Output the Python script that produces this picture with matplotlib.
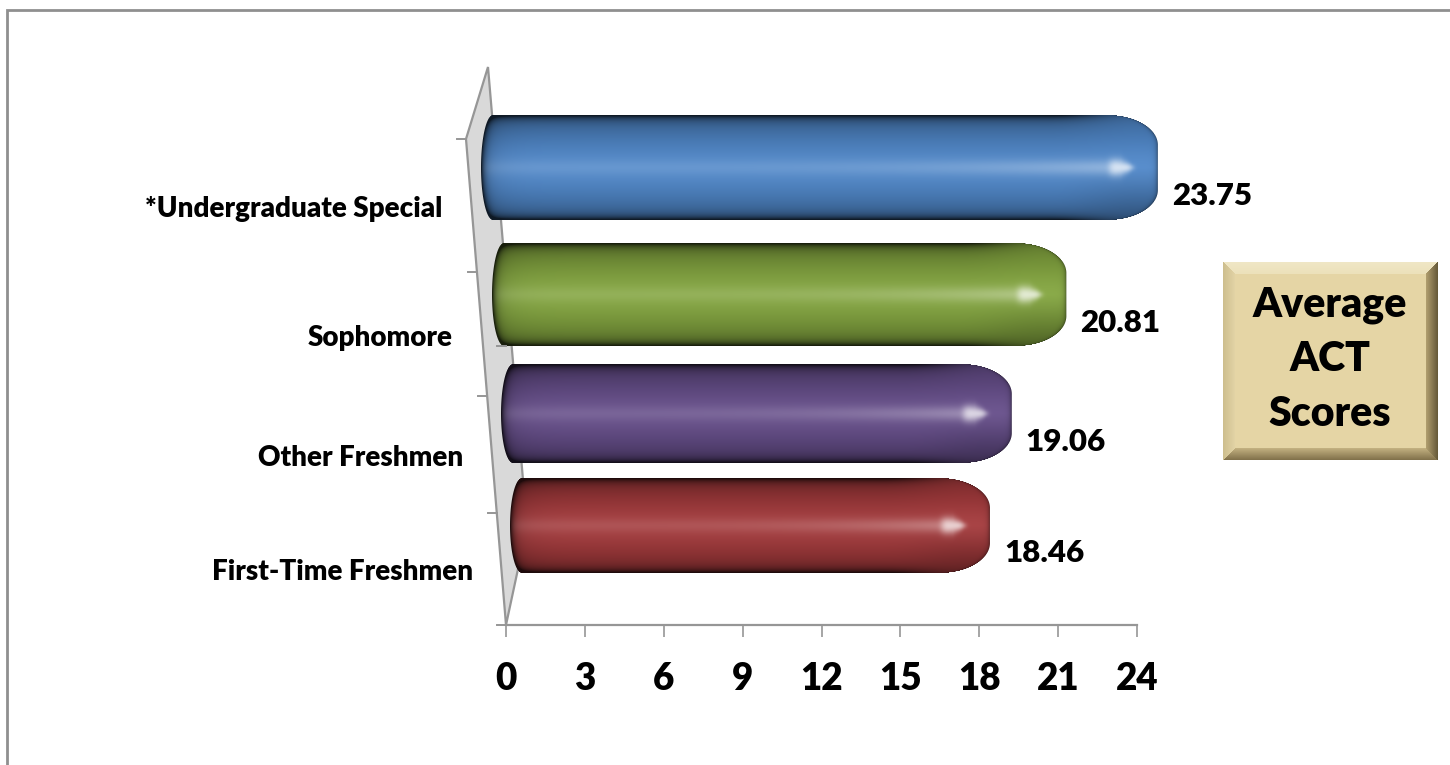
import numpy as np
import matplotlib
matplotlib.use('Agg')
import matplotlib.pyplot as plt
from matplotlib.patches import Polygon

plt.rcParams['font.family'] = ['Lato', 'DejaVu Sans']
plt.rcParams['font.weight'] = 'heavy'

# top to bottom, as in the picture
categories = ['*Undergraduate Special', 'Sophomore', 'Other Freshmen', 'First-Time Freshmen']
scores = [23.75, 20.81, 19.06, 18.46]
value_ticks = [0, 3, 6, 9, 12, 15, 18, 21, 24]
box_lines = ['Average', 'ACT', 'Scores']

bar_colors = [(80, 136, 202), (132, 166, 64), (102, 78, 138), (164, 58, 60)]

# fake perspective: every bar sits at its own depth, so has its own scale
bar_left = [481, 492, 501, 510]
px_per_unit = [28.5, 27.6, 26.8, 26.0]
bar_top = [115, 243, 364, 478]
bar_bottom = [220, 346, 463, 573]
label_right = [442, 453, 463, 473]
label_y = [209, 338, 458, 572]
wall_ticks_y = [139, 272, 396, 513, 625]
W, H = 1450, 765


def smooth(a):
    a = np.clip(a, 0, 1)
    return a * a * (3 - 2 * a)


def bar_image(base, left, right, top, bottom):
    # shaded glossy capsule as rgba, one cell per pixel
    cap, rx, ry = 12.0, 50.0, 30.0
    x0, y0 = int(left) - 2, int(top) - 2
    w, h = int(right - left) + 4, int(bottom - top) + 4
    xs, ys = np.meshgrid(x0 + np.arange(w) + 0.5, y0 + np.arange(h) + 0.5)
    half = (bottom - top) / 2
    mid = top + half
    u = np.clip((ys - mid) / half, -1, 1)
    v = half * (1 - np.abs(ys - mid) / half)
    d_left = xs - (left + cap * (1 - np.sqrt(1 - u ** 2)))
    corner = np.clip(1 - v / ry, 0, 1)
    d_right = (right - rx * (1 - np.sqrt(1 - corner ** 2))) - xs
    alpha = np.clip(np.minimum(np.minimum(d_left, d_right), v) + 0.5, 0, 1)

    base = np.array(base, dtype=float) / 255
    t = np.clip((xs - left) / (right - left), 0, 1)
    near_right = smooth((xs - (right - 110)) / 90)

    body = 0.76 + 0.24 * (1 - np.abs(u) ** 1.5)
    rgb = base[None, None, :] * body[..., None]

    # glow through the middle, stronger to the right
    fade = 1 - smooth((xs - (right - 44)) / 12)
    glow = np.exp(-(u / 0.15) ** 2) * (0.08 + 0.30 * t ** 4) * fade
    glow = glow + np.exp(-(u / 0.4) ** 2) * 0.05
    rgb = rgb + (1 - rgb) * glow[..., None]

    # dark rim on the long edges and the left cap
    rim = (np.exp(-v / 3.5) * 0.85 + np.exp(-v / 16.0) * 0.22) * (1 - near_right * 0.85)
    rim_l = np.exp(-d_left / 3.5) * 0.8 + np.exp(-d_left / 16.0) * 0.2
    dark = np.clip(rim + rim_l, 0, 0.9)
    rgb = rgb * (1 - dark[..., None]) + (base * 0.12)[None, None, :] * dark[..., None]

    # rounded end: thin rim, darker to the lower right
    rim_r = np.exp(-d_right / 2.0) * 0.55
    rgb = rgb * (1 - rim_r[..., None]) + (base * 0.2)[None, None, :] * rim_r[..., None]
    rgb = rgb * (1 - 0.2 * near_right[..., None] * np.clip(u, 0, 1)[..., None])

    # specular spot near the rounded end, narrowing to the right
    sx = (xs - (right - 37)) / 12
    taper = np.clip(1 - 0.55 * np.clip(sx, 0, 1), 0.3, 1)
    spot = np.exp(-sx ** 4 - ((ys - mid) / (7.5 * taper)) ** 2)
    tint = base * 0.2 + 0.8
    rgb = rgb + (tint - rgb) * 0.92 * spot[..., None]

    img = np.dstack([np.clip(rgb, 0, 1), alpha])
    return img, (x0, x0 + w, y0 + h, y0)


def bevel_image(left, right, top, bottom, size=12):
    w, h = right - left, bottom - top
    xs, ys = np.meshgrid(np.arange(w) + 0.5, np.arange(h) + 0.5)
    img = np.ones((h, w, 3)) * np.array([229, 214, 166]) / 255
    d = np.dstack([xs, w - xs, ys, h - ys])
    side = d.argmin(axis=2)
    near = d.min(axis=2)
    outer = [(205, 190, 142), (100, 88, 56), (240, 231, 198), (128, 112, 74)]
    inner = [(226, 211, 165), (178, 160, 112), (236, 225, 186), (196, 178, 130)]
    for i in range(4):
        mask = (side == i) & (near < size)
        k = (near / size)[..., None]
        col = np.array(outer[i]) * (1 - k) + np.array(inner[i]) * k
        img[mask] = (col / 255)[mask]
    return img


fig = plt.figure(figsize=(W / 100, H / 100), dpi=100, facecolor='white')

# pixel layer for the decoration
ax = fig.add_axes([0, 0, 1, 1], zorder=1)
ax.axis('off')

# chart frame, only top and left fall inside the crop
ax.plot([7, 7, W + 5], [H + 5, 10, 10], color='#8f8f8f', linewidth=2.0, solid_joinstyle='miter')

# side wall of the 3d chart
wall = [(488, 67), (466, 139), (506, 625), (527, 527)]
ax.add_patch(Polygon(wall, closed=True, facecolor='#d9d9d9', edgecolor='#969696', linewidth=1.6, zorder=1))
for ty in wall_ticks_y:
    ex = 466 + (ty - 139) * (506 - 466) / (625 - 139)
    ax.plot([ex - 9, ex], [ty, ty], color='#969696', linewidth=1.4, zorder=1)

for i, name in enumerate(categories):
    right = bar_left[i] + scores[i] * px_per_unit[i]
    img, ext = bar_image(bar_colors[i], bar_left[i], right, bar_top[i], bar_bottom[i])
    ax.imshow(img, extent=ext, aspect='auto', interpolation='nearest', zorder=3)
    ax.text(label_right[i], label_y[i], name, ha='right', va='center', fontsize=20, color='black', zorder=4)
    ax.text(right + 14, (bar_top[i] + bar_bottom[i]) / 2 + 28, f'{scores[i]:.2f}', ha='left', va='center',
            fontsize=22.5, color='black', zorder=4)

# title box
box = (1223, 1438, 262, 460)
ax.imshow(bevel_image(*box), extent=(box[0], box[1], box[3], box[2]), aspect='auto', zorder=3)
for line, y in zip(box_lines, [305, 359, 414]):
    ax.text(1330, y, line, ha='center', va='center', fontsize=29.5, color='black', zorder=4)

ax.set_xlim(0, W)
ax.set_ylim(H, 0)

# value axis, real scale
ax_x = fig.add_axes([506 / W, 1 - 625 / H, (1137 - 506) / W, 558 / H], zorder=2)
ax_x.patch.set_alpha(0)
ax_x.set_xlim(0, 24)
ax_x.set_yticks([])
for s in ['top', 'left', 'right']:
    ax_x.spines[s].set_visible(False)
ax_x.spines['bottom'].set_color('#969696')
ax_x.spines['bottom'].set_linewidth(1.6)
ax_x.set_xticks(value_ticks)
ax_x.tick_params(axis='x', length=8.5, width=1.2, color='#969696', pad=18, labelsize=26.5)
ax_x.plot([-9 / 26.29, 0], [0, 0], color='#969696', linewidth=1.4, clip_on=False)

fig.savefig('out.png', dpi=100)
